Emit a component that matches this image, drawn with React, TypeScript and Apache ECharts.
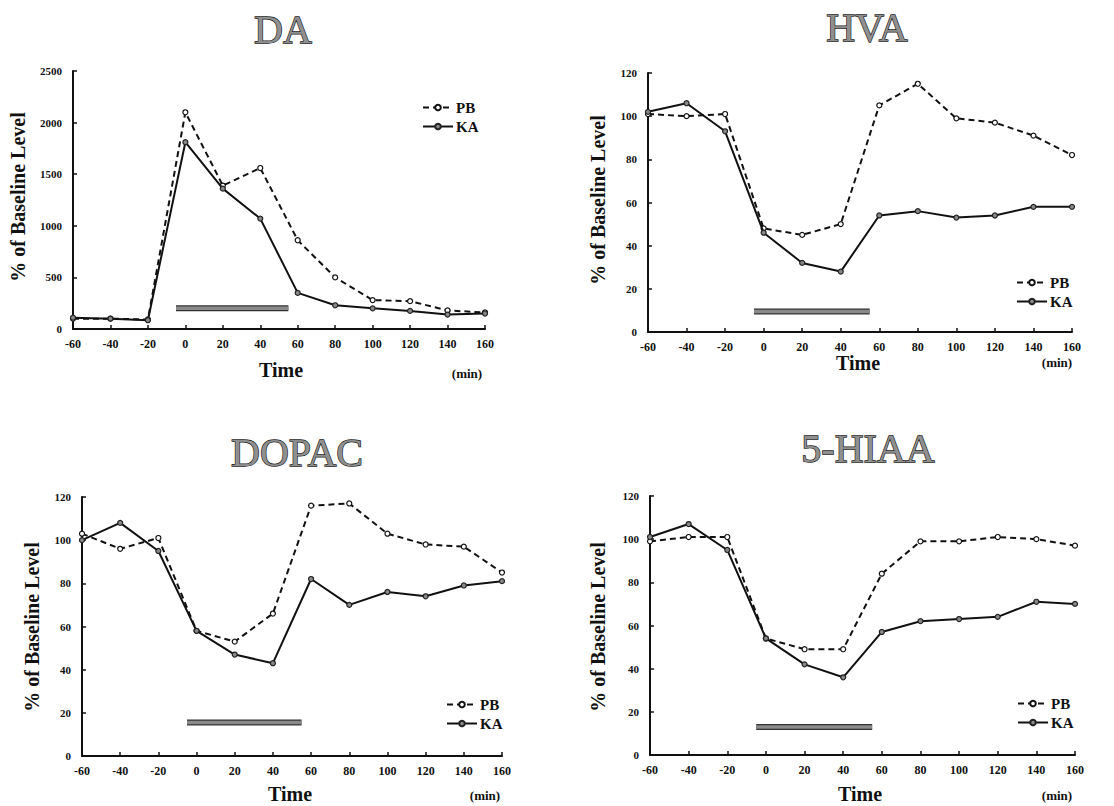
import React, { useEffect, useRef } from "react";
import * as echarts from "echarts";

const timeMin = [-60, -40, -20, 0, 20, 40, 60, 80, 100, 120, 140, 160];
const seriesNames = ["PB", "KA"];
const panelTitles = ["DA", "HVA", "DOPAC", "5-HIAA"];

const daPB = [100, 100, 92, 2100, 1390, 1560, 860, 500, 280, 270, 180, 160];
const daKA = [110, 100, 85, 1810, 1360, 1070, 350, 230, 200, 175, 140, 150];
const hvaPB = [101, 100, 101, 48, 45, 50, 105, 115, 99, 97, 91, 82];
const hvaKA = [102, 106, 93, 46, 32, 28, 54, 56, 53, 54, 58, 58];
const dopacPB = [103, 96, 101, 58, 53, 66, 116, 117, 103, 98, 97, 85];
const dopacKA = [100, 108, 95, 58, 47, 43, 82, 70, 76, 74, 79, 81];
const hiaaPB = [99, 101, 101, 54, 49, 49, 84, 99, 99, 101, 100, 97];
const hiaaKA = [101, 107, 95, 54, 42, 36, 57, 62, 63, 64, 71, 70];

// treatment bar: [start, end] in min, and its level on each panel's y scale
const barSpan = [-5, 55];
const barLevels = [200, 9.5, 15.5, 13];

const yMax = [2500, 120, 120, 120];
const yStep = [500, 20, 20, 20];

const pbData = [daPB, hvaPB, dopacPB, hiaaPB];
const kaData = [daKA, hvaKA, dopacKA, hiaaKA];

const SERIF = "Liberation Serif";

// layout
const grids = [
  { left: 73, top: 71, width: 412, height: 258 },
  { left: 648, top: 73, width: 424, height: 259 },
  { left: 82, top: 497, width: 420, height: 259 },
  { left: 650, top: 496, width: 425, height: 259 },
];
const titlePos = [
  [283, 29],
  [867, 27],
  [297, 452],
  [868, 448],
];
const yNamePos = [
  [18, 197],
  [598, 200],
  [32, 627],
  [598, 627],
];
const timePos = [
  [281, 370],
  [858, 363],
  [290, 794],
  [860, 794],
];
const minPos = [
  [467, 373],
  [1057, 362],
  [485, 795],
  [1057, 795],
];
const legendPos = [
  [417, 95],
  [1011, 270],
  [441, 692],
  [1012, 691],
];

export default function App() {
  const ref = useRef<HTMLDivElement>(null);

  useEffect(() => {
    if (!ref.current) return;
    const chart = echarts.init(ref.current, null, { renderer: "svg" });

    const xAxes = grids.map((_, i) => ({
      type: "value",
      gridIndex: i,
      min: -60,
      max: 160,
      interval: 20,
      splitLine: { show: false },
      axisLine: { show: true, onZero: false, lineStyle: { color: "#111", width: 2 } },
      axisTick: { show: true, inside: true, length: 4, lineStyle: { color: "#111", width: 1.5 } },
      axisLabel: {
        margin: 9,
        fontFamily: SERIF,
        fontWeight: "bold",
        fontSize: 12,
        color: "#111",
        formatter: (v: number) => String(v),
      },
    }));

    const yAxes = grids.map((_, i) => ({
      type: "value",
      gridIndex: i,
      min: 0,
      max: yMax[i],
      interval: yStep[i],
      splitLine: { show: false },
      axisLine: { show: true, onZero: false, lineStyle: { color: "#111", width: 2 } },
      axisTick: { show: true, inside: true, length: 4, lineStyle: { color: "#111", width: 1.5 } },
      axisLabel: {
        margin: 11,
        fontFamily: SERIF,
        fontWeight: "bold",
        fontSize: 11,
        color: "#111",
        formatter: (v: number) => String(v),
      },
    }));

    const series: any[] = [];
    grids.forEach((_, i) => {
      series.push({
        name: "bar",
        type: "line",
        xAxisIndex: i,
        yAxisIndex: i,
        silent: true,
        symbol: "none",
        lineStyle: { color: "#333", width: 6, cap: "butt" },
        data: barSpan.map((t) => [t, barLevels[i]]),
        z: 1,
      });
      series.push({
        name: "bar",
        type: "line",
        xAxisIndex: i,
        yAxisIndex: i,
        silent: true,
        symbol: "none",
        lineStyle: { color: "#8a8a8a", width: 3.5, cap: "butt" },
        data: barSpan.map((t) => [t, barLevels[i]]),
        z: 2,
      });
      series.push({
        name: seriesNames[0],
        type: "line",
        xAxisIndex: i,
        yAxisIndex: i,
        symbol: "circle",
        symbolSize: 5,
        lineStyle: { color: "#111", width: 2, type: [6, 4] },
        itemStyle: { color: "#fff", borderColor: "#111", borderWidth: 1.2 },
        data: timeMin.map((t, k) => [t, pbData[i][k]]),
        z: 3,
      });
      series.push({
        name: seriesNames[1],
        type: "line",
        xAxisIndex: i,
        yAxisIndex: i,
        symbol: "circle",
        symbolSize: 5,
        lineStyle: { color: "#111", width: 2 },
        itemStyle: { color: "#888", borderColor: "#222", borderWidth: 1.2 },
        data: timeMin.map((t, k) => [t, kaData[i][k]]),
        z: 4,
      });
    });

    const legends = legendPos.map(([x, y]) => ({
      left: x,
      top: y,
      orient: "vertical",
      itemWidth: 30,
      itemHeight: 7,
      itemGap: 4,
      data: seriesNames,
      selectedMode: false,
      textStyle: { fontFamily: SERIF, fontWeight: "bold", fontSize: 15, color: "#111", padding: [0, 0, 0, -2] },
    }));

    const graphics: any[] = [];
    panelTitles.forEach((t, i) => {
      graphics.push({
        type: "text",
        x: titlePos[i][0],
        y: titlePos[i][1],
        style: {
          text: t,
          fontFamily: SERIF,
          fontSize: 40,
          fill: "#8f8f8f",
          stroke: "#1a1a1a",
          lineWidth: 1.3,
          align: "center",
          verticalAlign: "middle",
        },
      });
      graphics.push({
        type: "text",
        x: yNamePos[i][0],
        y: yNamePos[i][1],
        rotation: Math.PI / 2,
        style: {
          text: "% of Baseline Level",
          fontFamily: SERIF,
          fontWeight: "bold",
          fontSize: 20,
          fill: "#111",
          align: "center",
          verticalAlign: "middle",
        },
      });
      graphics.push({
        type: "text",
        x: timePos[i][0],
        y: timePos[i][1],
        style: {
          text: "Time",
          fontFamily: SERIF,
          fontWeight: "bold",
          fontSize: 20,
          fill: "#111",
          align: "center",
          verticalAlign: "middle",
        },
      });
      graphics.push({
        type: "text",
        x: minPos[i][0],
        y: minPos[i][1],
        style: {
          text: "(min)",
          fontFamily: SERIF,
          fontWeight: "bold",
          fontSize: 13,
          fill: "#111",
          align: "center",
          verticalAlign: "middle",
        },
      });
    });

    chart.setOption({
      animation: false,
      backgroundColor: "#fff",
      grid: grids.map((g) => ({ ...g, containLabel: false })),
      xAxis: xAxes,
      yAxis: yAxes,
      legend: legends,
      series,
      graphic: graphics,
    });

    return () => chart.dispose();
  }, []);

  return (
    <div
      ref={ref}
      style={{ position: "fixed", left: 0, top: 0, width: 1114, height: 806, background: "#fff" }}
    />
  );
}
